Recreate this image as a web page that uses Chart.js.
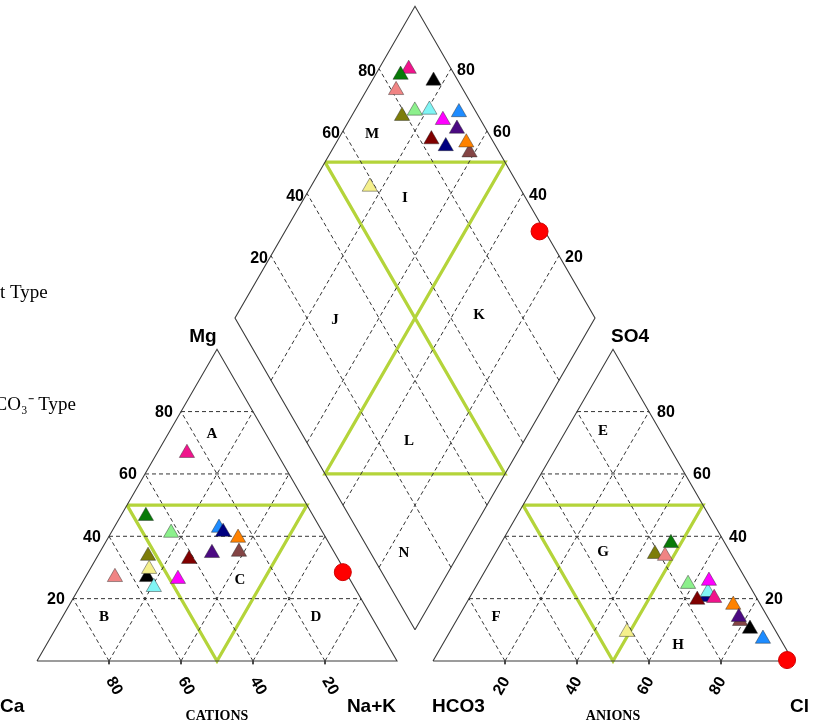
<!DOCTYPE html>
<html>
<head>
<meta charset="utf-8">
<script src="https://cdn.jsdelivr.net/npm/chart.js@4.4.1/dist/chart.umd.min.js"></script>
<style>
  html, body { margin: 0; padding: 0; background: #ffffff; }
  #piper { display: block; }
</style>
</head>
<body>
<canvas id="piper" width="813" height="728"></canvas>
<script>
// ---- Water samples: milliequivalent percentages ----
const sampleIds = ['S1', 'S2', 'S3', 'S4', 'S5', 'S6', 'S7', 'S8', 'S9', 'S10', 'S11', 'S12', 'S13', 'S14', 'S15'];
const sampleColors = ['#844545', '#000000', '#7d7d0a', '#1e8cff', '#000080', '#ff8200', '#80f5f5', '#f0148c',
                      '#087a08', '#f08484', '#f5f08c', '#ff00ff', '#800000', '#8cf08c', '#4b0a82'];
const caPct   = [26.4, 56.0, 52.3, 28.1, 27.6, 24.4, 55.7, 25.0, 46.5, 64.9, 54.1, 47.7, 41.4, 42.2, 34.1];
const mgPct   = [35.0, 26.9, 33.7, 42.7, 41.4, 39.5, 23.7, 66.7, 46.5, 26.9, 29.5, 26.3, 32.7, 41.1, 34.6];
const naKPct  = [38.6, 17.1, 14.0, 29.2, 31.0, 36.1, 20.6,  8.3,  7.0,  8.2, 16.4, 26.0, 25.9, 16.7, 31.3];
const hco3Pct = [ 8.3,  6.8, 21.2,  4.8, 13.9,  7.6, 12.6, 11.8, 15.0, 18.7, 41.5, 10.5, 16.8, 16.8,  8.0];
const so4Pct  = [12.8, 10.3, 34.3,  7.1, 20.5, 18.0, 22.1, 20.2, 37.8, 33.7,  9.3, 25.7, 19.6, 24.7, 14.1];
const clPct   = [78.9, 82.9, 44.5, 88.1, 65.6, 74.4, 65.3, 68.0, 47.2, 47.6, 49.2, 63.8, 63.6, 58.5, 77.9];

// Reference water (red circle): [Ca, Mg, Na+K] and [HCO3, SO4, Cl]
const refCation = [0.8, 28.5, 70.7];
const refAnion  = [1.5, 0.3, 98.2];

// Tick values and text
const tickValues = [20, 40, 60, 80];
const cationNames = ['Ca', 'Mg', 'Na+K'];
const anionNames = ['HCO3', 'SO4', 'Cl'];
const fieldLetters = ['A', 'B', 'C', 'D', 'E', 'F', 'G', 'H', 'I', 'J', 'K', 'L', 'M', 'N'];

// ---- Piper geometry (triangle side = 100 units) ----
const S60 = Math.sqrt(3) / 2;
const GAP = 10;
const AX0 = 100 + GAP;                         // left corner of anion triangle
const DB = { x: 100 + GAP / 2, y: GAP * S60 };  // bottom corner of the diamond

function cationXY(ca, mg, na) {
  const t = ca + mg + na;
  mg = mg / t * 100; na = na / t * 100;
  return { x: na + mg / 2, y: mg * S60 };
}
function anionXY(hco3, so4, cl) {
  const t = hco3 + so4 + cl;
  so4 = so4 / t * 100; cl = cl / t * 100;
  return { x: AX0 + cl + so4 / 2, y: so4 * S60 };
}
// a = Ca+Mg (%), b = SO4+Cl (%)
function diamondXY(a, b) {
  return { x: DB.x + 0.5 * (b - a), y: DB.y + S60 * (a + b) };
}

// ---- Frame, grid and field boundaries ----
const segments = [];
function seg(pts, color, width, dash) { segments.push({ pts, color, width, dash }); }
const OUTLINE = '#3a3a3a', GRID = '#333333', ZONE = '#b4d43a';

seg([cationXY(100, 0, 0), cationXY(0, 0, 100), cationXY(0, 100, 0), cationXY(100, 0, 0)], OUTLINE, 1.1, []);
seg([anionXY(100, 0, 0), anionXY(0, 0, 100), anionXY(0, 100, 0), anionXY(100, 0, 0)], OUTLINE, 1.1, []);
seg([diamondXY(0, 0), diamondXY(0, 100), diamondXY(100, 100), diamondXY(100, 0), diamondXY(0, 0)], OUTLINE, 1.1, []);

tickValues.forEach(k => {
  const r = 100 - k;
  seg([cationXY(r, k, 0), cationXY(0, k, r)], GRID, 1, [4, 3]);
  seg([cationXY(k, 0, r), cationXY(k, r, 0)], GRID, 1, [4, 3]);
  seg([cationXY(r, 0, k), cationXY(0, r, k)], GRID, 1, [4, 3]);
  seg([anionXY(r, k, 0), anionXY(0, k, r)], GRID, 1, [4, 3]);
  seg([anionXY(k, 0, r), anionXY(k, r, 0)], GRID, 1, [4, 3]);
  seg([anionXY(r, 0, k), anionXY(0, r, k)], GRID, 1, [4, 3]);
  seg([diamondXY(k, 0), diamondXY(k, 100)], GRID, 1, [4, 3]);
  seg([diamondXY(0, k), diamondXY(100, k)], GRID, 1, [4, 3]);
  // small ticks under the base lines
  const c = cationXY(k, 0, r), a = anionXY(r, 0, k);
  seg([c, { x: c.x, y: -0.9 }], GRID, 1, []);
  seg([a, { x: a.x, y: -0.9 }], GRID, 1, []);
});

seg([cationXY(50, 50, 0), cationXY(0, 50, 50), cationXY(50, 0, 50), cationXY(50, 50, 0)], ZONE, 3.2, []);
seg([anionXY(50, 50, 0), anionXY(0, 50, 50), anionXY(50, 0, 50), anionXY(50, 50, 0)], ZONE, 3.2, []);
seg([diamondXY(100, 50), diamondXY(50, 100), diamondXY(50, 0), diamondXY(0, 50), diamondXY(100, 50)], ZONE, 3.2, []);

// ---- Datasets ----
const datasets = [];
const n = sampleIds.length;
sampleIds.forEach((id, i) => {
  const camg = (caPct[i] + mgPct[i]) / (caPct[i] + mgPct[i] + naKPct[i]) * 100;
  const socl = (so4Pct[i] + clPct[i]) / (hco3Pct[i] + so4Pct[i] + clPct[i]) * 100;
  datasets.push({
    label: id,
    data: [cationXY(caPct[i], mgPct[i], naKPct[i]),
           anionXY(hco3Pct[i], so4Pct[i], clPct[i]),
           diamondXY(camg, socl)],
    showLine: false,
    pointStyle: 'triangle',
    pointRadius: 8.8,
    backgroundColor: sampleColors[i],
    borderColor: 'rgba(40,40,40,0.55)',
    borderWidth: 0.8,
    order: 2 + (n - i),
    clip: false
  });
});
{
  const camg = refCation[0] + refCation[1];
  const socl = refAnion[1] + refAnion[2];
  datasets.push({
    label: 'Reference',
    data: [cationXY(...refCation), anionXY(...refAnion), diamondXY(camg, socl)],
    showLine: false,
    pointStyle: 'circle',
    pointRadius: 8.5,
    backgroundColor: '#ff0000',
    borderColor: '#d00000',
    borderWidth: 1,
    order: 1,
    clip: false
  });
}
segments.forEach((s, j) => {
  datasets.push({
    label: 'line' + j,
    data: s.pts,
    showLine: true,
    fill: false,
    tension: 0,
    borderColor: s.color,
    borderWidth: s.width,
    borderDash: s.dash,
    pointRadius: 0,
    order: 100,
    clip: false
  });
});

// ---- Text labels drawn through the scales ----
const textPlugin = {
  id: 'piperText',
  afterDatasetsDraw(chart) {
    const ctx = chart.ctx;
    const X = v => chart.scales.x.getPixelForValue(v);
    const Y = v => chart.scales.y.getPixelForValue(v);
    const P = p => ({ x: X(p.x), y: Y(p.y) });
    function txt(s, x, y, font, align, rot) {
      ctx.save();
      ctx.font = font;
      ctx.fillStyle = '#000';
      ctx.textAlign = align || 'center';
      ctx.textBaseline = 'middle';
      ctx.translate(x, y);
      if (rot) ctx.rotate(rot);
      ctx.fillText(s, 0, 0);
      ctx.restore();
    }
    const tickFont = 'bold 16px "Liberation Sans", Arial, sans-serif';
    tickValues.forEach(k => {
      const r = 100 - k;
      let p = P(cationXY(r, k, 0));
      txt(String(k), p.x - 17, p.y + 1, tickFont);
      p = P(anionXY(0, k, r));
      txt(String(k), p.x + 17, p.y + 1, tickFont);
      p = P(cationXY(k, 0, r));
      txt(String(k), p.x + 5, p.y + 25, tickFont, 'center', Math.PI / 3);
      p = P(anionXY(r, 0, k));
      txt(String(k), p.x - 3, p.y + 25, tickFont, 'center', -Math.PI / 3);
      p = P(diamondXY(100, k));
      txt(String(k), p.x - 3, p.y + 3, tickFont, 'right');
      p = P(diamondXY(k, 100));
      txt(String(k), p.x + 6, p.y + 2, tickFont, 'left');
    });

    const nameFont = 'bold 19px "Liberation Sans", Arial, sans-serif';
    txt(cationNames[0], 0, 707, nameFont, 'left');
    txt(cationNames[1], 203, 337, nameFont, 'center');
    txt(cationNames[2], 396, 707, nameFont, 'right');
    txt(anionNames[0], 432, 707, nameFont, 'left');
    txt(anionNames[1], 630, 337, nameFont, 'center');
    txt(anionNames[2], 790, 707, nameFont, 'left');

    const capFont = 'bold 14px "Liberation Serif", "Times New Roman", serif';
    txt('CATIONS', X(50), 716, capFont);
    txt('ANIONS', X(AX0 + 50), 716, capFont);

    // field letters
    const letterFont = 'bold 15px "Liberation Serif", "Times New Roman", serif';
    const letterPos = [
      [212, 434], [104, 617], [240, 580], [316, 617],
      [603, 431], [496, 617], [603, 552], [678, 645],
      [405, 198], [335, 320], [479, 315], [409, 441], [372, 134], [404, 553]
    ];
    fieldLetters.forEach((l, i) => txt(l, letterPos[i][0], letterPos[i][1], letterFont));

    // water-type captions
    const typeFont = '19px "Liberation Serif", "Times New Roman", serif';
    txt('t Type', 0, 293, typeFont, 'left');
    txt('HCO\u2083\u207B Type', 76, 405, typeFont, 'right');
  }
};

new Chart(document.getElementById('piper'), {
  type: 'scatter',
  data: { datasets },
  options: {
    responsive: false,
    animation: false,
    events: [],
    layout: { padding: 0, autoPadding: false },
    plugins: { legend: { display: false }, tooltip: { enabled: false } },
    scales: {
      x: { type: 'linear', display: false, min: -37 / 3.6, max: (813 - 37) / 3.6 },
      y: { type: 'linear', display: false, min: (661 - 728) / 3.6, max: 661 / 3.6 }
    }
  },
  plugins: [textPlugin]
});
</script>
</body>
</html>
